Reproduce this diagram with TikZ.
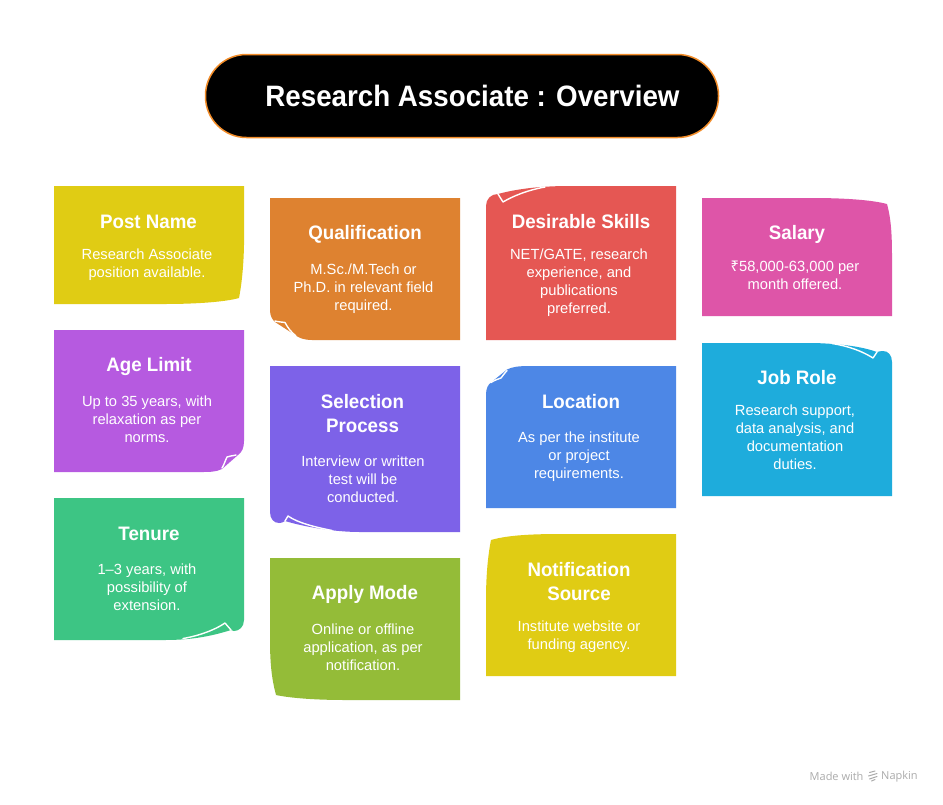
\documentclass[tikz,border=0pt]{standalone}
\usepackage{fontspec}
\setmainfont{Liberation Sans}
\newfontfamily\markfont{Open Sans}
\newfontfamily\rupeefont{Noto Sans}
\newfontfamily\headfont[FakeStretch=0.96]{Liberation Sans Bold}
\newfontfamily\titlefont[FakeStretch=0.94]{Liberation Sans Bold}
\definecolor{cYellow}{HTML}{E0CC14}
\definecolor{cOrange}{HTML}{DE8230}
\definecolor{cRed}{HTML}{E55753}
\definecolor{cPink}{HTML}{DE55A8}
\definecolor{cPurple}{HTML}{B65AE0}
\definecolor{cIndigo}{HTML}{7D62E8}
\definecolor{cBlue}{HTML}{4D87E6}
\definecolor{cCyan}{HTML}{1EACDC}
\definecolor{cGreen}{HTML}{3DC584}
\definecolor{cLime}{HTML}{94BC38}
\definecolor{cTitleEdge}{HTML}{F28C28}
\definecolor{cMark}{HTML}{ABABAB}
\tikzset{
  head/.style={text=white,align=center,inner sep=0pt,yshift=-1.5pt,font=\fontsize{19.5}{24}\selectfont\headfont,
    execute at begin node={\rule[-3pt]{0pt}{17pt}},execute at end node={\rule[-3pt]{0pt}{17pt}}},
  body/.style={text=white,align=center,inner sep=0pt,yshift=-2pt,font=\fontsize{14.7}{18}\selectfont,
    execute at begin node={\rule[-4pt]{0pt}{12pt}},execute at end node={\rule[-4pt]{0pt}{12pt}}},
  fold/.style={draw=white,line width=1.4pt,line cap=round,line join=round}
}
\begin{document}
\begin{tikzpicture}[x=1pt,y=-1pt]
\path[fill=white,use as bounding box] (0,0) rectangle (943,804);
% title
\node[draw=cTitleEdge,fill=black,line width=1.5pt,rounded corners=41pt,minimum width=513pt,minimum height=83pt,inner sep=0pt] (titlebox) at (462,96) {};
\node[text=white,inner sep=0pt,font=\fontsize{29.5}{34}\selectfont\titlefont] (titletext) at (472.5,96) {Research Associate : Overview};

% Post Name
\fill[cYellow] (54,186) -- (244,186) -- (244,245) .. controls (243.5,270) and (241,288) .. (239,298) .. controls (225,302) and (195,304) .. (165,304) -- (54,304) -- cycle;
\node[head] (postT) at (148.5,221) {Post Name};
\node[body] (postB) at (147,263) {Research Associate\\position available.};

% Age Limit
\fill[cPurple] (54,330) -- (244,330) -- (244,441) .. controls (244,448) and (242,452) .. (238,455) -- (222,469) .. controls (216,472) and (210,472) .. (200,472) -- (54,472) -- cycle;
\draw[fold] (236,455) .. controls (232,456) and (229,456) .. (227,457) .. controls (225,461) and (224,465) .. (222,468);
\node[head] (ageT) at (149,365) {Age Limit};
\node[body] (ageB) at (147,419) {Up to 35 years, with\\relaxation as per\\norms.};

% Tenure
\fill[cGreen] (54,498) -- (244,498) -- (244,620) .. controls (244,627) and (239,631) .. (234,631) .. controls (233,631) and (232,630.5) .. (231,630) .. controls (215,635) and (195,640) .. (165,640) -- (54,640) -- cycle;
\draw[fold] (231,630) -- (225,623) .. controls (215,630) and (198,636) .. (183,638.5);
\node[head] (tenureT) at (149,533) {Tenure};
\node[body] (tenureB) at (147,587) {1–3 years, with\\possibility of\\extension.};

% Qualification
\fill[cOrange] (270,198) -- (460,198) -- (460,340) -- (312,340) .. controls (303,340) and (297,337) .. (292,333) -- (275,322) .. controls (272,319) and (270,316) .. (270,310) -- cycle;
\draw[fold] (275,321) .. controls (279,322) and (282,322) .. (285,322.5) .. controls (288,328) and (291,332) .. (296,336);
\node[head] (qualT) at (365,233) {Qualification};
\node[body] (qualB) at (363.5,287) {M.Sc./M.Tech or\\Ph.D. in relevant field\\required.};

% Selection Process
\fill[cIndigo] (270,366) -- (460,366) -- (460,532) -- (360,532) .. controls (335,532) and (305,527) .. (285,521) .. controls (283,522.5) and (281,523) .. (279,523) .. controls (274,523) and (270,519) .. (270,512) -- cycle;
\draw[fold] (285,521) -- (288,516) .. controls (298,523) and (315,527) .. (332,530.5);
\node[head] (selT) at (362.5,413) {Selection\\Process};
\node[body] (selB) at (363,479) {Interview or written\\test will be\\conducted.};

% Apply Mode
\fill[cLime] (270,558) -- (460,558) -- (460,700) -- (345,700) .. controls (315,700) and (290,698) .. (276,695) .. controls (272,680) and (270,665) .. (270,640) -- cycle;
\node[head] (applyT) at (365,593) {Apply Mode};
\node[body] (applyB) at (363,647) {Online or offline\\application, as per\\notification.};

% Desirable Skills
\fill[cRed] (486,340) -- (676,340) -- (676,186) -- (570,186) .. controls (545,186) and (520,188) .. (498,194) .. controls (491,194) and (486,199) .. (486,206) -- cycle;
\draw[fold] (498,194) -- (503,202) .. controls (513,196) and (528,190) .. (545,187);
\node[head] (skillT) at (581,221) {Desirable Skills};
\node[body] (skillB) at (579,281) {NET/GATE, research\\experience, and\\publications\\preferred.};

% Location
\fill[cBlue] (486,508) -- (676,508) -- (676,366) -- (530,366) .. controls (518,366) and (512,367) .. (507,369.5) -- (491,382.5) .. controls (488,385) and (486,388) .. (486,395) -- cycle;
\draw[fold] (491,382.5) .. controls (495,380) and (498,379) .. (501,378) .. controls (503,375) and (505,373) .. (507,370.5);
\node[head] (locT) at (581,401) {Location};
\node[body] (locB) at (579,455) {As per the institute\\or project\\requirements.};

% Notification Source
\fill[cYellow] (486,676) -- (676,676) -- (676,534) -- (560,534) .. controls (525,534) and (505,536) .. (491,540) .. controls (488,555) and (486,575) .. (486,600) -- cycle;
\node[head] (noteT) at (579,581) {Notification\\Source};
\node[body] (noteB) at (579,635) {Institute website or\\funding agency.};

% Salary
\fill[cPink] (702,198) -- (812,198) .. controls (845,198) and (872,200) .. (887,204) .. controls (890,215) and (892,228) .. (892,255) -- (892,316) -- (702,316) -- cycle;
\node[head] (salT) at (797,233) {Salary};
\node[body] (salB) at (795,275) {{\rupeefont ₹}58,000-63,000 per\\month offered.};

% Job Role
\fill[cCyan] (702,343) -- (815,343) .. controls (840,344) and (860,346) .. (877,352) .. controls (879,351.5) and (881,351) .. (883,351) .. controls (888,351) and (892,355) .. (892,362) -- (892,496) -- (702,496) -- cycle;
\draw[fold] (877,352) -- (873,358) .. controls (862,351) and (848,346) .. (832,343.5);
\node[head] (jobT) at (797,377) {Job Role};
\node[body] (jobB) at (795,437) {Research support,\\data analysis, and\\documentation\\duties.};

% footer
\node[text=cMark,inner sep=0pt,anchor=west,font=\fontsize{11}{12}\selectfont\markfont] (madeWith) at (809.5,776.5) {Made with};
\node[text=cMark,inner sep=0pt,anchor=west,font=\fontsize{11}{12}\selectfont\markfont] (napkin) at (881,776.5) {Napkin};
\draw[cMark,line width=1pt,line cap=round] (869.5,772.5) -- (875,771) (868.5,776) -- (877,773.5) (869.5,779) -- (877,776.5) (871.5,781) -- (875,779.5);
\end{tikzpicture}
\end{document}
